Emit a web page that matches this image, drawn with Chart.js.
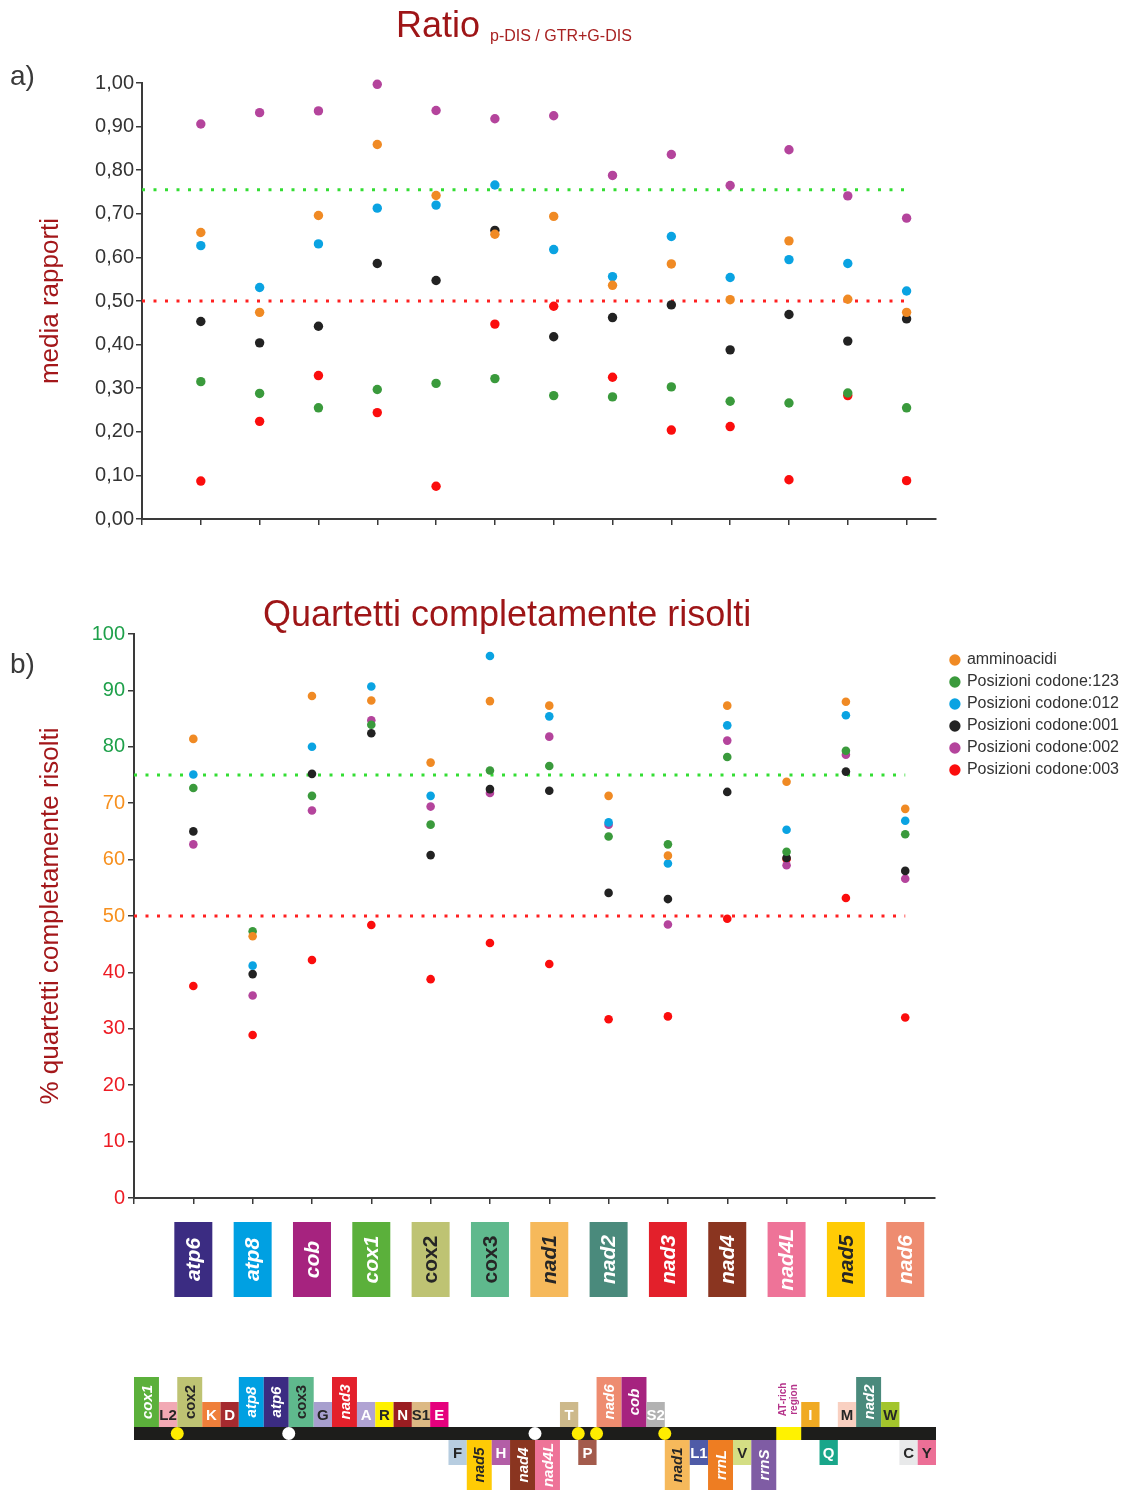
<!DOCTYPE html>
<html>
<head>
<meta charset="utf-8">
<script src="https://cdn.jsdelivr.net/npm/chart.js@4.4.1/dist/chart.umd.min.js"></script>
<style>
  body { margin: 0; width: 1126px; height: 1490px; background: #fff; position: relative; overflow: hidden;
         font-family: "Liberation Sans", Arial, sans-serif; }
  .wrap { position: absolute; left: 0; width: 1126px; }
  .txt { position: absolute; white-space: nowrap; line-height: 1; }
</style>
</head>
<body>
<div class="wrap" style="top:0;height:545px"><canvas id="ratioChart"></canvas></div>
<div class="wrap" style="top:560px;height:750px"><canvas id="quartetChart"></canvas></div>
<div class="wrap" style="top:1360px;height:130px"><canvas id="genomeChart"></canvas></div>

<div class="txt" style="left:10px;top:62px;font-size:28px;color:#3a3a3a">a)</div>
<div class="txt" style="left:396px;top:7px;font-size:36px;color:#9e1517">Ratio</div>
<div class="txt" style="left:490px;top:28px;font-size:16px;color:#a82222">p-DIS / GTR+G-DIS</div>
<div class="txt" style="left:10px;top:650px;font-size:28px;color:#3a3a3a">b)</div>
<div class="txt" style="left:263px;top:596px;font-size:36px;color:#9e1517">Quartetti completamente risolti</div>

<script>
// categories (mitochondrial protein-coding genes)
const genes = ['atp6', 'atp8', 'cob', 'cox1', 'cox2', 'cox3', 'nad1', 'nad2', 'nad3', 'nad4', 'nad4L', 'nad5', 'nad6'];
const seriesLabels = ['amminoacidi', 'Posizioni codone:123', 'Posizioni codone:012',
                      'Posizioni codone:001', 'Posizioni codone:002', 'Posizioni codone:003'];

// a) media rapporti p-DIS / GTR+G-DIS
const ratioAA  = [0.657, 0.474, 0.696, 0.859, 0.742, 0.653, 0.694, 0.536, 0.585, 0.503, 0.638, 0.504, 0.474];
const ratio123 = [0.315, 0.288, 0.255, 0.297, 0.311, 0.322, 0.283, 0.280, 0.303, 0.270, 0.266, 0.289, 0.255];
const ratio012 = [0.627, 0.531, 0.631, 0.713, 0.720, 0.766, 0.618, 0.556, 0.648, 0.554, 0.595, 0.586, 0.523];
const ratio001 = [0.453, 0.404, 0.442, 0.586, 0.547, 0.662, 0.418, 0.462, 0.491, 0.388, 0.469, 0.408, 0.459];
const ratio002 = [0.906, 0.932, 0.936, 0.997, 0.937, 0.918, 0.925, 0.788, 0.836, 0.765, 0.847, 0.741, 0.690];
const ratio003 = [0.087, 0.224, 0.329, 0.244, 0.075, 0.447, 0.488, 0.325, 0.204, 0.212, 0.090, 0.283, 0.088];
const ratioThresholds = [0.755, 0.50];

// b) % quartetti completamente risolti
const quartAA  = [81.4, 46.4, 89.0, 88.2, 77.2, 88.1, 87.3, 71.3, 60.7, 87.3, 73.8, 88.0, 69.0];
const quart123 = [72.7, 47.3, 71.3, 83.9, 66.2, 75.8, 76.6, 64.1, 62.7, 78.2, 61.4, 79.3, 64.5];
const quart012 = [75.1, 41.2, 80.0, 90.7, 71.3, 96.1, 85.4, 66.6, 59.3, 83.8, 65.3, 85.6, 66.9];
const quart001 = [65.0, 39.7, 75.2, 82.4, 60.8, 72.5, 72.2, 54.1, 53.0, 72.0, 60.3, 75.6, 58.0];
const quart002 = [62.7, 35.9, 68.7, 84.7, 69.4, 71.8, 81.8, 66.2, 48.5, 81.1, 59.0, 78.6, 56.6];
const quart003 = [37.6, 28.9, 42.2, 48.4, 38.8, 45.2, 41.5, 31.7, 32.2, 49.5, 60.1, 53.2, 32.0];
const quartThresholds = [75, 50];

// genome map (gene order along the mtDNA)
const mapNames = ['cox1', 'L2', 'cox2', 'K', 'D', 'atp8', 'atp6', 'cox3', 'G', 'nad3', 'A', 'R', 'N', 'S1', 'E',
                  'F', 'nad5', 'H', 'nad4', 'nad4L', 'T', 'P', 'nad6', 'cob', 'S2', 'nad1', 'L1', 'rrnL', 'V', 'rrnS',
                  'AT-rich region', 'I', 'Q', 'M', 'nad2', 'W', 'C', 'Y'];
// g = gene / rRNA, t = tRNA, c = control region
const mapKinds = ['g', 't', 'g', 't', 't', 'g', 'g', 'g', 't', 'g', 't', 't', 't', 't', 't',
                  't', 'g', 't', 'g', 'g', 't', 't', 'g', 'g', 't', 'g', 't', 'g', 't', 'g',
                  'c', 't', 't', 't', 'g', 't', 't', 't'];
const mapStrand = [1, 1, 1, 1, 1, 1, 1, 1, 1, 1, 1, 1, 1, 1, 1,
                   -1, -1, -1, -1, -1, 1, -1, 1, 1, 1, -1, -1, -1, -1, -1,
                   0, 1, -1, 1, 1, 1, -1, -1];
const junctionAfter = ['L2', 'atp6', 'nad4', 'T', 'P', 'S2'];

// styles
const seriesColors = ['#f08a24', '#3a9a3c', '#0aa3e2', '#222222', '#b4449c', '#fb0d0d'];
const quartTickColors = ['#ed1c24', '#ed1c24', '#ed1c24', '#ed1c24', '#ed1c24',
                         '#f7901e', '#f7901e', '#f7901e', '#1ea04a', '#1ea04a', '#1ea04a'];
const geneColors = ['#3b2c82', '#00a0e2', '#a6237f', '#5bb03b', '#bec373', '#5fb98d', '#f6b95b',
                    '#4a8a7c', '#e3202b', '#8a3520', '#ee7398', '#ffcb05', '#ee8c70'];
const geneTextColors = ['#fff', '#fff', '#fff', '#fff', '#262626', '#262626', '#262626',
                        '#fff', '#fff', '#fff', '#fff', '#262626', '#fff'];
const mapColors = ['#5bb03b', '#f2a9b4', '#bec373', '#ef7f3a', '#a52a2f', '#00a0e2', '#3b2c82', '#5fb98d', '#a79fce',
                   '#e3202b', '#b0a3d3', '#fff100', '#9a1d21', '#dcb984', '#e5007d', '#b7cde0', '#ffcb05', '#b35ea6',
                   '#8a3520', '#ee7398', '#cdb98b', '#a35b4c', '#ee8c70', '#a6237f', '#b2b2b2', '#f6b95b', '#4f5ba7',
                   '#ee7d22', '#d4de84', '#7f5ca4', '#fff200', '#f0aa23', '#19a68a', '#f9d0c1', '#4a8a7c', '#a3c52c',
                   '#e8e9ea', '#ec6f96'];
const mapTextLight = ['cox1', 'K', 'D', 'atp8', 'atp6', 'nad3', 'A', 'N', 'E', 'H', 'nad4', 'nad4L', 'T', 'P',
                      'nad6', 'cob', 'S2', 'L1', 'rrnL', 'rrnS', 'I', 'Q', 'nad2'];
const uprightNames = ['cox2', 'cox3'];
const junctionColors = ['#ffed00', '#ffffff', '#ffffff', '#ffed00', '#ffed00', '#ffed00'];

const FONT = '"Liberation Sans", Arial, sans-serif';
Chart.defaults.font.family = FONT;
Chart.defaults.color = '#333';
const AXIS = '#3a3a3a';

function pointSets(series, radius) {
  return series.map((vals, s) => ({
    label: seriesLabels[s],
    data: vals.map((v, i) => ({ x: i + 1, y: v })),
    backgroundColor: seriesColors[s],
    borderWidth: 0,
    pointRadius: radius,
    pointHoverRadius: radius,
    clip: false
  }));
}

function thresholdSets(values) {
  const colors = ['#33dd33', '#ff2020'];
  return values.map((v, k) => ({
    label: '',
    data: [{ x: 0, y: v }, { x: genes.length, y: v }],
    showLine: true,
    borderColor: colors[k],
    borderWidth: 3,
    borderDash: [3, 8.5],
    pointRadius: 0,
    order: 10,
    clip: false
  }));
}

function xAxis(height) {
  return {
    type: 'linear', min: 0, max: genes.length + 0.5,
    grid: { drawOnChartArea: false, drawTicks: true, tickLength: 6, color: AXIS, lineWidth: 1.5 },
    border: { display: true, color: AXIS, width: 2 },
    ticks: { stepSize: 1, autoSkip: false, includeBounds: false, callback: () => '' },
    afterFit: s => { s.height = height; }
  };
}

// a) Ratio
new Chart(document.getElementById('ratioChart'), {
  type: 'scatter',
  data: { datasets: pointSets([ratioAA, ratio123, ratio012, ratio001, ratio002, ratio003], 4.7)
                      .concat(thresholdSets(ratioThresholds)) },
  options: {
    responsive: true, maintainAspectRatio: false, animation: false, events: [],
    layout: { padding: { top: 83, right: 190, bottom: 0, left: 0 } },
    plugins: { legend: { display: false }, tooltip: { enabled: false } },
    scales: {
      x: xAxis(26),
      y: {
        min: 0, max: 1,
        ticks: { stepSize: 0.1, padding: 2, color: '#333', font: { size: 20 },
                 callback: v => v.toFixed(2).replace('.', ',') },
        grid: { drawOnChartArea: false, tickLength: 6, color: AXIS, lineWidth: 1.5 },
        border: { color: AXIS, width: 2 },
        title: { display: true, text: 'media rapporti', color: '#a3171a', font: { size: 26 },
                 padding: { top: 35, bottom: 0 } },
        afterFit: s => { s.width = 142; }
      }
    }
  }
});

// draws the coloured gene boxes under the x axis of chart b
const geneBoxes = {
  id: 'geneBoxes',
  afterDraw(chart) {
    const { ctx, chartArea, scales: { x } } = chart;
    const top = chartArea.bottom + 24, h = 75, w = 38;
    ctx.save();
    genes.forEach((g, i) => {
      const cx = x.getPixelForValue(i + 1);
      ctx.fillStyle = geneColors[i];
      ctx.fillRect(cx - w / 2, top, w, h);
      ctx.save();
      ctx.translate(cx + 1, top + h / 2);
      ctx.rotate(-Math.PI / 2);
      ctx.fillStyle = geneTextColors[i];
      ctx.font = (uprightNames.includes(g) ? '' : 'italic ') + 'bold 21px ' + FONT;
      ctx.textAlign = 'center';
      ctx.textBaseline = 'middle';
      ctx.fillText(g, 0, 0);
      ctx.restore();
    });
    ctx.restore();
  }
};

// moves the legend a little away from the plot, as in the figure
const legendGap = {
  id: 'legendGap',
  afterLayout(chart) {
    const lg = chart.legend;
    const shift = chart.chartArea.right + 10 - lg.left;
    lg.left += shift;
    lg.right += shift;
  }
};

// b) Quartetti completamente risolti
new Chart(document.getElementById('quartetChart'), {
  type: 'scatter',
  data: { datasets: pointSets([quartAA, quart123, quart012, quart001, quart002, quart003], 4.3)
                      .concat(thresholdSets(quartThresholds)) },
  options: {
    responsive: true, maintainAspectRatio: false, animation: false, events: [],
    layout: { padding: { top: 74, right: 7, bottom: 0, left: 0 } },
    plugins: {
      tooltip: { enabled: false },
      legend: {
        position: 'right', align: 'start',
        title: { display: true, text: ' ', font: { size: 12, lineHeight: 1 }, padding: 0 },
        labels: {
          usePointStyle: true, pointStyle: 'circle', boxWidth: 8, boxHeight: 8, padding: 6,
          color: '#333', font: { size: 16 },
          filter: item => item.text !== ''
        }
      }
    },
    scales: {
      x: xAxis(112),
      y: {
        min: 0, max: 100,
        ticks: { stepSize: 10, padding: 3, font: { size: 20 }, color: c => quartTickColors[c.index] },
        grid: { drawOnChartArea: false, tickLength: 6, color: AXIS, lineWidth: 1.5 },
        border: { color: AXIS, width: 2 },
        title: { display: true, text: '% quartetti completamente risolti', color: '#a3171a', font: { size: 26 },
                 padding: { top: 35, bottom: 0 } },
        afterFit: s => { s.width = 134; }
      }
    }
  },
  plugins: [geneBoxes, legendGap]
});

// genome map
const kindWidth = { g: 15, t: 11, c: 15 };
const kindHeight = { g: 2, t: 1, c: 0 };
const mapStart = [];
let mapTotal = 0;
mapKinds.forEach(k => { mapStart.push(mapTotal); mapTotal += kindWidth[k]; });
const featEnd = name => { const i = mapNames.indexOf(name); return mapStart[i] + kindWidth[mapKinds[i]]; };
const BAR = 0.26;

const genomeMap = {
  id: 'genomeMap',
  beforeDatasetsDraw(chart) {
    const { ctx, scales: { x, y } } = chart;
    ctx.save();
    ctx.fillStyle = '#1d1d1b';
    const bx0 = x.getPixelForValue(0), bx1 = x.getPixelForValue(mapTotal);
    const byT = y.getPixelForValue(BAR), byB = y.getPixelForValue(-BAR);
    ctx.fillRect(bx0, byT, bx1 - bx0, byB - byT);
    mapNames.forEach((name, i) => {
      const kind = mapKinds[i];
      const x0 = x.getPixelForValue(mapStart[i]);
      const x1 = x.getPixelForValue(mapStart[i] + kindWidth[kind]);
      let yA, yB;
      if (mapStrand[i] > 0) { yA = y.getPixelForValue(BAR + kindHeight[kind]); yB = byT; }
      else if (mapStrand[i] < 0) { yA = byB; yB = y.getPixelForValue(-BAR - kindHeight[kind]); }
      else { yA = byT; yB = byB; }
      ctx.fillStyle = mapColors[i];
      ctx.fillRect(x0, yA, x1 - x0, yB - yA);
      const cx = (x0 + x1) / 2;
      ctx.textAlign = 'center';
      ctx.textBaseline = 'middle';
      if (kind === 'c') {
        const ty = y.getPixelForValue(BAR + 1.1);
        ctx.save();
        ctx.translate(cx, ty);
        ctx.rotate(-Math.PI / 2);
        ctx.fillStyle = '#b5338a';
        ctx.font = 'bold 10px ' + FONT;
        ctx.fillText('AT-rich', 0, -5.5);
        ctx.fillText('region', 0, 5.5);
        ctx.restore();
        return;
      }
      ctx.fillStyle = mapTextLight.includes(name) ? '#fff' : '#262626';
      if (kind === 'g') {
        ctx.save();
        ctx.translate(cx + 1, (yA + yB) / 2);
        ctx.rotate(-Math.PI / 2);
        ctx.font = (uprightNames.includes(name) ? '' : 'italic ') + 'bold 15px ' + FONT;
        ctx.fillText(name, 0, 0);
        ctx.restore();
      } else {
        ctx.font = 'bold 15px ' + FONT;
        ctx.fillText(name, cx, (yA + yB) / 2 + 1);
      }
    });
    ctx.restore();
  }
};

new Chart(document.getElementById('genomeChart'), {
  type: 'scatter',
  data: {
    datasets: [{
      label: 'giunzioni',
      data: junctionAfter.map(n => ({ x: featEnd(n), y: 0 })),
      backgroundColor: junctionColors,
      borderWidth: 0,
      pointRadius: 6.5,
      pointHoverRadius: 6.5,
      clip: false
    }]
  },
  options: {
    responsive: true, maintainAspectRatio: false, animation: false, events: [],
    layout: { autoPadding: false, padding: { top: 17, right: 190, bottom: 0, left: 134 } },
    plugins: { legend: { display: false }, tooltip: { enabled: false } },
    scales: {
      x: { type: 'linear', display: false, min: 0, max: mapTotal },
      y: { type: 'linear', display: false, min: -BAR - 2, max: BAR + 2 }
    }
  },
  plugins: [genomeMap]
});
</script>
</body>
</html>
